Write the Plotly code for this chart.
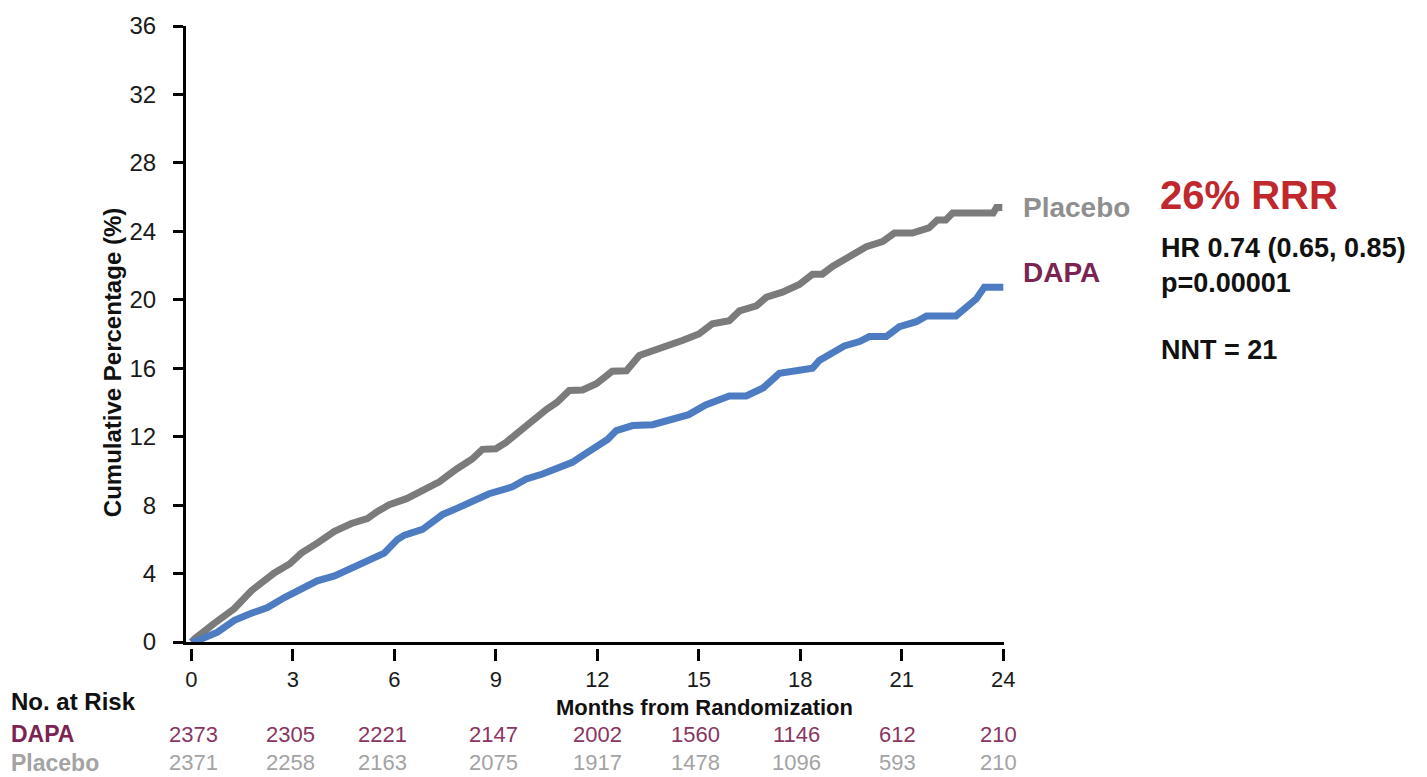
import plotly.graph_objects as go

# ---------------- data ----------------
placebo_t = [0, 0.1, 0.68, 1.27, 1.77, 2.22, 2.45, 2.9, 3.25, 3.72, 4.23, 4.73, 5.2, 5.5, 5.85,
             6.36, 6.83, 7.33, 7.83, 8.3, 8.6, 9.0, 9.3, 9.8, 10.1, 10.5, 10.8, 11.17, 11.56,
             11.97, 12.44, 12.86, 13.24, 13.63, 14.04, 14.51, 15.0, 15.4, 15.9, 16.2, 16.7,
             17.0, 17.47, 17.97, 18.36, 18.65, 18.95, 19.45, 19.95, 20.43, 20.78, 21.31, 21.8,
             22.05, 22.3, 22.5, 23.7, 23.8, 23.97]
placebo_pct = [0, 0.2, 1.10, 1.96, 3.0, 3.75, 4.04, 4.56, 5.2, 5.78, 6.47, 6.93, 7.22, 7.63, 8.03,
               8.38, 8.9, 9.36, 10.1, 10.7, 11.26, 11.3, 11.67, 12.5, 13.0, 13.6, 14.0, 14.7, 14.73,
               15.1, 15.83, 15.85, 16.75, 17.0, 17.33, 17.62, 18.0, 18.6, 18.78, 19.35, 19.64,
               20.16, 20.45, 20.9, 21.5, 21.5, 21.95, 22.47, 23.1, 23.4, 23.9, 23.9, 24.2,
               24.67, 24.67, 25.07, 25.07, 25.4, 25.4]

dapa_t = [0, 0.2, 0.77, 1.27, 1.77, 2.25, 2.75, 3.25, 3.72, 4.23, 4.73, 5.2, 5.7, 6.09, 6.3,
          6.83, 7.42, 7.83, 8.3, 8.8, 9.49, 9.9, 10.38, 10.79, 11.26, 11.56, 11.97, 12.3, 12.56,
          13.04, 13.63, 14.2, 14.7, 15.2, 15.9, 16.4, 16.9, 17.38, 17.97, 18.36, 18.56, 18.9,
          19.3, 19.75, 20.04, 20.54, 20.93, 21.43, 21.73, 22.6, 22.9, 23.2, 23.44, 24.0]
dapa_pct = [0, 0.1, 0.58, 1.27, 1.68, 2.02, 2.6, 3.12, 3.58, 3.87, 4.33, 4.85, 5.2, 6.0, 6.25,
            6.58, 7.45, 7.8, 8.2, 8.67, 9.07, 9.53, 9.82, 10.1, 10.5, 10.9, 11.38, 11.84, 12.36,
            12.65, 12.7, 13.0, 13.29, 13.86, 14.38, 14.38, 14.85, 15.7, 15.83, 16.0, 16.46, 16.9,
            17.3, 17.56, 17.85, 17.85, 18.43, 18.72, 19.06, 19.06, 19.58, 20.05, 20.74, 20.74]

risk_months = [0, 3, 6, 9, 12, 15, 18, 21, 24]
risk_dapa = [2373, 2305, 2221, 2147, 2002, 1560, 1146, 612, 210]
risk_placebo = [2371, 2258, 2163, 2075, 1917, 1478, 1096, 593, 210]

y_ticks = [0, 4, 8, 12, 16, 20, 24, 28, 32, 36]
x_ticks = [0, 3, 6, 9, 12, 15, 18, 21, 24]

# ---------------- styling ----------------
FONT = "Liberation Sans, Arial, Helvetica, sans-serif"
GRAY_LINE = "#7b7b7b"
BLUE_LINE = "#4d7cc3"
MAROON = "#7b2452"
MAROON_NUM = "#8a3562"
LIGHT_GRAY = "#a3a3a3"
LABEL_GRAY = "#8f8f8f"
RED = "#c0282d"

W, H = 1427, 777
ML, MR, MT, MB = 186, 423, 19, 129
PLOT_BOTTOM_PX = H - MB           # 648
PLOT_H = H - MT - MB              # 629
Y_DOMAIN_BOTTOM = 6 / PLOT_H      # main x-axis line sits 6 px above tick marks


def px_x(px):
    return (px - ML) / (W - ML - MR)


def px_y(py):
    return (PLOT_BOTTOM_PX - py) / PLOT_H


fig = go.Figure()
fig.add_trace(go.Scatter(x=placebo_t, y=placebo_pct, mode="lines",
                         line=dict(color=GRAY_LINE, width=7), hoverinfo="skip"))
fig.add_trace(go.Scatter(x=dapa_t, y=dapa_pct, mode="lines",
                         line=dict(color=BLUE_LINE, width=7), hoverinfo="skip"))

x_range = [-0.16, 24.02]

fig.update_layout(
    width=W, height=H,
    margin=dict(l=ML, r=MR, t=MT, b=MB, pad=0),
    paper_bgcolor="white", plot_bgcolor="white",
    showlegend=False,
    font=dict(family=FONT, color="#1a1a1a"),
    xaxis=dict(range=x_range, showline=True, linecolor="black", linewidth=3,
               ticks="", showticklabels=False, showgrid=False, zeroline=False),
    xaxis2=dict(range=x_range, overlaying="x", anchor="free", position=0,
                tickmode="array", tickvals=x_ticks, ticktext=[str(v) for v in x_ticks],
                ticks="outside", ticklen=12, tickwidth=2.5, tickcolor="black",
                showline=False, showgrid=False, zeroline=False,
                tickfont=dict(size=22, color="#1a1a1a", family=FONT),
                ticklabelstandoff=0),
    yaxis=dict(range=[0, 36], domain=[Y_DOMAIN_BOTTOM, 1],
               tickmode="array", tickvals=y_ticks, ticktext=[str(v) for v in y_ticks],
               ticks="outside", ticklen=10, tickwidth=2.5, tickcolor="black",
               showline=True, linecolor="black", linewidth=3,
               showgrid=False, zeroline=False,
               tickfont=dict(size=24, color="#1a1a1a", family=FONT),
               ticklabelstandoff=12),
)

# dummy anchor so the secondary tick axis renders
fig.add_trace(go.Scatter(x=[None], y=[None], xaxis="x2", yaxis="y", showlegend=False,
                         hoverinfo="skip"))

ann = []


def text(s, px, py, size, color, bold=True, xanchor="left", **kw):
    ann.append(dict(text=f"<b>{s}</b>" if bold else s, x=px_x(px), y=px_y(py),
                    xref="paper", yref="paper", xanchor=xanchor, yanchor="middle",
                    showarrow=False, font=dict(size=size, color=color, family=FONT), **kw))


# y-axis title
text("Cumulative Percentage (%)", 112, 360, 24, "#111111", xanchor="center", textangle=-90)
# x-axis title
text("Months from Randomization", 704, 708, 22, "#111111", xanchor="center")

# curve labels
text("Placebo", 1021, 203, 28, LABEL_GRAY)
text("DAPA", 1021, 268, 28, MAROON)

# stats block
text("26% RRR", 1158, 190, 40, RED)
text("HR 0.74 (0.65, 0.85)", 1159, 243, 27, "#111111")
text("p=0.00001", 1159, 279, 27, "#111111")
text("NNT = 21", 1159, 347, 27, "#111111")

# risk table
text("No. at Risk", 9, 702, 24, "#111111")
text("DAPA", 9, 735, 23, MAROON)
text("Placebo", 9, 764, 23, LIGHT_GRAY)

nudge = [2, -2, -12, -2, 0, -3, -4, -4, -5]
for m, d, p, n in zip(risk_months, risk_dapa, risk_placebo, nudge):
    ann.append(dict(text=str(d), x=m, y=px_y(735), xref="x", yref="paper", xshift=n,
                    xanchor="center", yanchor="middle", showarrow=False,
                    font=dict(size=22, color=MAROON_NUM, family=FONT)))
    ann.append(dict(text=str(p), x=m, y=px_y(764), xref="x", yref="paper", xshift=n,
                    xanchor="center", yanchor="middle", showarrow=False,
                    font=dict(size=22, color=LIGHT_GRAY, family=FONT)))

fig.update_layout(annotations=ann)

fig.write_html("out.html")
